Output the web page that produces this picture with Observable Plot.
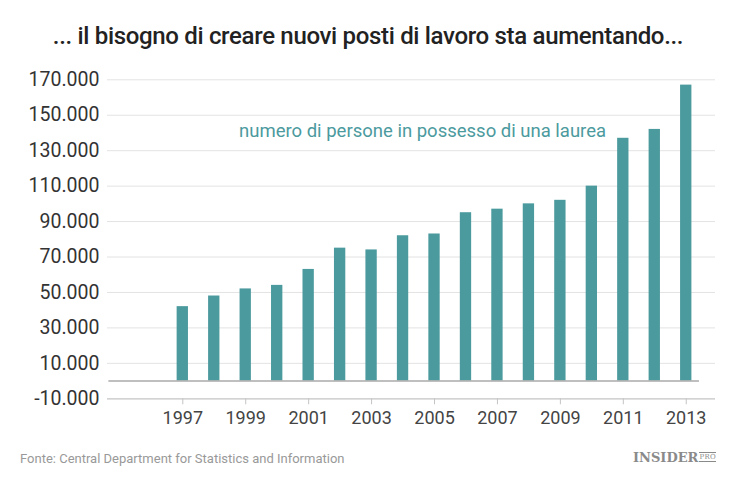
<!DOCTYPE html>
<html>
<head>
<meta charset="utf-8">
<script src="https://cdn.jsdelivr.net/npm/d3@7"></script>
<script src="https://cdn.jsdelivr.net/npm/@observablehq/plot@0.6"></script>
<style>
  html, body { margin: 0; padding: 0; background: #fff; }
  body { width: 750px; height: 482px; position: relative; font-family: Roboto, "Noto Sans", sans-serif; overflow: hidden; }
  #title { position: absolute; left: 0; width: 736px; top: 22px; text-align: center; font-size: 24px; font-weight: 500; color: #222; letter-spacing: -0.32px; }
  #chart { position: absolute; left: 0; top: 60px; }
  #source { position: absolute; left: 20px; top: 451px; font-size: 13px; color: #999; }
  #logo { position: absolute; left: 633px; top: 450px; font-family: "DejaVu Serif", "Liberation Serif", serif; font-weight: bold; font-size: 13px; color: #8a8a8a; letter-spacing: 0px; }
  #logo span { font-size: 7px; font-weight: normal; border-top: 1px solid #8a8a8a; border-bottom: 1px solid #8a8a8a; margin-left: 1px; vertical-align: 3px; letter-spacing: 0.3px; }
</style>
</head>
<body>
<div id="title">... il bisogno di creare nuovi posti di lavoro sta aumentando...</div>
<div id="chart"></div>
<div id="source">Fonte: Central Department for Statistics and Information</div>
<div id="logo">INSIDER<span>PRO</span></div>
<script>
const years = [1997,1998,1999,2000,2001,2002,2003,2004,2005,2006,2007,2008,2009,2010,2011,2012,2013];
const graduates = [42000,48000,52000,54000,63000,75000,74000,82000,83000,95000,97000,100000,102000,110000,137000,142000,167000];
const xTicks = [1997,1999,2001,2003,2005,2007,2009,2011,2013];
const yTicks = [-10000,10000,30000,50000,70000,90000,110000,130000,150000,170000];
const annotationText = "numero di persone in possesso di una laurea";
const annotationX = 2004.62;
const annotationY = 140800;

const data = years.map((year, i) => ({year, value: graduates[i]}));
const fmt = d => d3.format(",")(d).replace(/,/g, ".").replace("−", "-");
const teal = "#4b9a9e";

const chart = Plot.plot({
  width: 750,
  height: 375,
  marginTop: 19.3,
  marginBottom: 36.7,
  marginLeft: 107,
  marginRight: 35,
  style: { fontFamily: "Roboto, 'Noto Sans', sans-serif", background: "transparent" },
  x: { domain: [1994.607, 2013.93] },
  y: { domain: [-10000, 170000] },
  marks: [
    Plot.gridY(yTicks.filter(d => d > -10000), { stroke: "#e3e3e3", strokeOpacity: 1 }),
    Plot.rectY(data, { x1: d => d.year - 0.18, x2: d => d.year + 0.18, y: "value", fill: teal }),
    Plot.ruleY([0], { x1: 1994.65, x2: d3.max(years) + 0.42, stroke: "#aaa", strokeWidth: 1.5 }),
    Plot.ruleY([-10000], { stroke: "#c4c4c4", strokeWidth: 1.2 }),
    Plot.axisX({ ticks: xTicks, tickFormat: d => String(d), tickSize: 6, tickPadding: 6, fontSize: 18, fill: "#444", stroke: "#c4c4c4", label: null }),
    Plot.axisY({ ticks: yTicks, tickFormat: fmt, tickSize: 0, tickPadding: 8, fontSize: 19.5, fill: "#333", label: null }),
    Plot.text([annotationText], { x: annotationX, y: annotationY, text: d => d, fill: teal, fontSize: 18.5, textAnchor: "middle" })
  ]
});
document.getElementById("chart").appendChild(chart);
</script>
</body>
</html>
